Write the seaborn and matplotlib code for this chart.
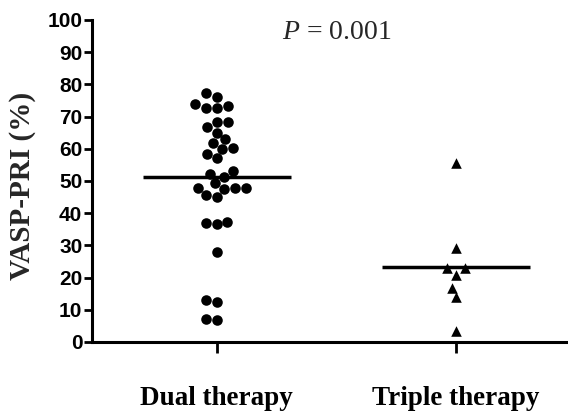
import matplotlib
matplotlib.use("Agg")
import matplotlib.pyplot as plt
import seaborn as sns
import numpy as np
import pandas as pd

categories = ["Dual therapy", "Triple therapy"]
dual_values = [77.2, 76.2, 73.8, 72.6, 72.6, 73.3, 68.4, 68.4, 66.6, 63.0, 61.9, 65.0,
               59.9, 60.3, 57.0, 58.3, 52.2, 51.3, 53.2, 49.3, 47.9, 47.5, 45.1, 45.6,
               47.9, 47.9, 36.9, 36.6, 37.4, 27.9, 13.0, 12.5, 6.8, 7.1]
triple_values = [55.7, 29.3, 22.9, 22.9, 20.8, 16.9, 13.9, 3.5]
yticks = [0, 10, 20, 30, 40, 50, 60, 70, 80, 90, 100]
p_text = "0.001"

sns.set_theme(style="ticks")
plt.rcParams["mathtext.fontset"] = "custom"
plt.rcParams["mathtext.it"] = "Liberation Serif:italic"
plt.rcParams["mathtext.rm"] = "Liberation Serif"

df_dual = pd.DataFrame({"group": categories[0], "value": dual_values})
df_triple = pd.DataFrame({"group": categories[1], "value": triple_values})

fig = plt.figure(figsize=(5.68, 4.15), dpi=100)
ax = fig.add_axes([0.162, 0.176, 0.838, 0.776])

sns.swarmplot(data=df_dual, x="group", y="value", order=categories, ax=ax,
              color="black", marker="o", size=7.6, linewidth=0, clip_on=False)
sns.swarmplot(data=df_triple, x="group", y="value", order=categories, ax=ax,
              color="black", marker="^", size=7.6, linewidth=0, clip_on=False)

for i, vals in enumerate([dual_values, triple_values]):
    m = np.mean(vals)
    ax.hlines(m, i - 0.31, i + 0.31, color="black", linewidth=2.5, zorder=5)

ax.set_ylim(0, 100)
ax.set_xlim(-0.521, 1.468)
ax.set_yticks(yticks)
ax.set_yticklabels([str(t) for t in yticks], fontfamily="Liberation Sans",
                   fontweight="bold", fontsize=15)
ax.set_xticks([0, 1])
ax.set_xticklabels(categories, fontfamily="Liberation Serif", fontweight="bold",
                   fontsize=19.5)
ax.tick_params(axis="y", direction="out", length=6, width=2, pad=1, colors="black")
ax.tick_params(axis="x", direction="out", length=8, width=2, pad=24, colors="black")
for s in ["top", "right"]:
    ax.spines[s].set_visible(False)
for s in ["left", "bottom"]:
    ax.spines[s].set_linewidth(2.2)
    ax.spines[s].set_color("black")

ax.set_xlabel("")
ax.set_ylabel("VASP-PRI (%)", fontfamily="Liberation Serif", fontweight="bold",
              fontsize=21)
ax.yaxis.set_label_coords(-0.117, 0.485)

ax.text(0.5, 96, "$P$ = " + p_text, fontfamily="Liberation Serif", fontsize=20,
        ha="center", va="center")

fig.savefig("out.png", dpi=100)
